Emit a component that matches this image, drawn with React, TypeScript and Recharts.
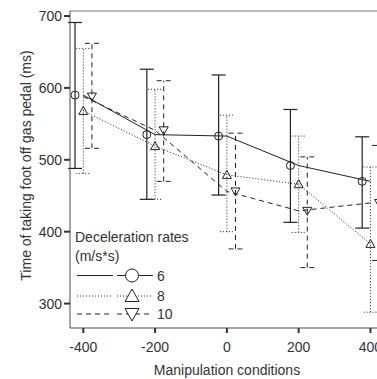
import React from 'react';
import { ComposedChart, Line, Scatter, XAxis, YAxis, ErrorBar, Legend, Label, ReferenceLine } from 'recharts';

const conditions = [-400, -200, 0, 200, 400];
const xTicks = [-400, -200, 0, 200, 400];
const yTicks = [300, 400, 500, 600, 700];
const seriesNames = ['6', '8', '10'];
const legendTitle = ['Deceleration rates', '(m/s*s)'];

const mean6 = [590, 535, 533, 492, 470];
const low6 = [488, 445, 451, 413, 405];
const high6 = [691, 626, 618, 570, 532];

const mean8 = [568, 519, 479, 466, 383];
const low8 = [481, 445, 400, 399, 288];
const high8 = [655, 598, 562, 533, 490];

const mean10 = [588, 541, 456, 429, 440];
const low10 = [516, 470, 376, 350, 360];
const high10 = [662, 610, 537, 504, 520];

const dodge = [-23, 0, 24];

const FONT = '"Liberation Sans", Arial, sans-serif';
const INK = '#222';
const AXIS = '#4a4a4a';
const TEXT = '#333';

const lineData = (mean: number[]) => conditions.map((x, i) => ({ x, y: mean[i] }));
const pointData = (mean: number[], low: number[], high: number[], off: number) =>
  conditions.map((x, i) => ({ x: x + off, y: mean[i], err: [mean[i] - low[i], high[i] - mean[i]] }));

const line6 = lineData(mean6);
const line8 = lineData(mean8);
const line10 = lineData(mean10);
const pts6 = pointData(mean6, low6, high6, dodge[0]);
const pts8 = pointData(mean8, low8, high8, dodge[1]);
const pts10 = pointData(mean10, low10, high10, dodge[2]);

const dashes = [undefined, '1 2', '5 4'];

const CircleShape = (p: any) => <circle cx={p.cx} cy={p.cy} r={4} fill="none" stroke={INK} strokeWidth={1} />;
const TriUp = (p: any) => (
  <polygon points={`${p.cx},${p.cy - 4.5} ${p.cx - 4.5},${p.cy + 3.5} ${p.cx + 4.5},${p.cy + 3.5}`} fill="none" stroke={INK} strokeWidth={1} />
);
const TriDown = (p: any) => (
  <polygon points={`${p.cx},${p.cy + 4.5} ${p.cx - 4.5},${p.cy - 3.5} ${p.cx + 4.5},${p.cy - 3.5}`} fill="none" stroke={INK} strokeWidth={1} />
);

const renderLegend = () => {
  const rows = [49.5, 70, 88];
  return (
    <svg width={130} height={100} style={{ display: 'block' }}>
      <text x={3} y={16} fontSize={14} fontFamily={FONT} fill={TEXT}>{legendTitle[0]}</text>
      <text x={3} y={35} fontSize={14} fontFamily={FONT} fill={TEXT}>{legendTitle[1]}</text>
      {seriesNames.map((name, i) => {
        const cy = rows[i];
        const cx = 60;
        return (
          <g key={name}>
            <line x1={5} x2={41} y1={cy} y2={cy} stroke={INK} strokeDasharray={dashes[i]} />
            <line x1={45} x2={81} y1={cy} y2={cy} stroke={INK} strokeDasharray={dashes[i]} />
            {i === 0 && <circle cx={cx} cy={cy} r={6.5} fill="#fff" stroke={INK} />}
            {i === 1 && <polygon points={`${cx},${cy - 7} ${cx - 7},${cy + 5.5} ${cx + 7},${cy + 5.5}`} fill="#fff" stroke={INK} />}
            {i === 2 && <polygon points={`${cx},${cy + 7} ${cx - 7},${cy - 5.5} ${cx + 7},${cy - 5.5}`} fill="#fff" stroke={INK} />}
            <text x={85} y={cy + 5} fontSize={14} fontFamily={FONT} fill={TEXT}>{name}</text>
          </g>
        );
      })}
    </svg>
  );
};

export default function App() {
  const tickStyle = { fontSize: 14, fontFamily: FONT, fill: TEXT };
  return (
    <div style={{ position: 'absolute', left: 0, top: 0, width: 377, height: 379, overflow: 'hidden', background: '#fff' }}>
      <ComposedChart width={392} height={379} margin={{ top: 11, right: 0, bottom: 21, left: 0 }}>
        <XAxis
          type="number"
          dataKey="x"
          domain={[-437, 460]}
          ticks={xTicks}
          allowDataOverflow
          tickSize={5}
          tickMargin={9}
          height={30}
          axisLine={{ stroke: AXIS }}
          tickLine={{ stroke: '#333', strokeWidth: 2 }}
          tick={tickStyle}
        >
          <Label
            content={() => (
              <text x={227} y={375} textAnchor="middle" fontSize={14} fontFamily={FONT} fill={TEXT}>
                Manipulation conditions
              </text>
            )}
          />
        </XAxis>
        <YAxis
          type="number"
          dataKey="y"
          domain={[266, 707]}
          ticks={yTicks}
          allowDataOverflow
          width={70}
          tickSize={6}
          tickMargin={2}
          axisLine={{ stroke: AXIS }}
          tickLine={{ stroke: '#333', strokeWidth: 2 }}
          tick={tickStyle}
        >
          <Label
            content={() => (
              <text x={26} y={165.5} transform="rotate(-90 26 165.5)" textAnchor="middle" dominantBaseline="central" fontSize={14} fontFamily={FONT} fill={TEXT}>
                Time of taking foot off gas pedal (ms)
              </text>
            )}
          />
        </YAxis>
        <ReferenceLine y={707} stroke="#777" ifOverflow="visible" />
        <Line data={line6} dataKey="y" type="linear" stroke={INK} strokeWidth={1} dot={false} isAnimationActive={false} />
        <Line data={line8} dataKey="y" type="linear" stroke={INK} strokeWidth={1} strokeDasharray="1 2" dot={false} isAnimationActive={false} />
        <Line data={line10} dataKey="y" type="linear" stroke={INK} strokeWidth={1} strokeDasharray="5 4" dot={false} isAnimationActive={false} />
        <Scatter data={pts6} dataKey="y" shape={CircleShape} isAnimationActive={false}>
          <ErrorBar dataKey="err" direction="y" width={7} stroke={INK} strokeWidth={1.2} isAnimationActive={false} />
        </Scatter>
        <Scatter data={pts8} dataKey="y" shape={TriUp} isAnimationActive={false}>
          <ErrorBar dataKey="err" direction="y" width={7} stroke={INK} strokeWidth={1} strokeDasharray="1 2" isAnimationActive={false} />
        </Scatter>
        <Scatter data={pts10} dataKey="y" shape={TriDown} isAnimationActive={false}>
          <ErrorBar dataKey="err" direction="y" width={7} stroke={INK} strokeWidth={1} strokeDasharray="5 4" isAnimationActive={false} />
        </Scatter>
        <Legend
          content={renderLegend}
          layout="horizontal"
          verticalAlign="middle"
          align="center"
          wrapperStyle={{ left: 72, top: 226, width: 130, height: 100 }}
        />
      </ComposedChart>
    </div>
  );
}
